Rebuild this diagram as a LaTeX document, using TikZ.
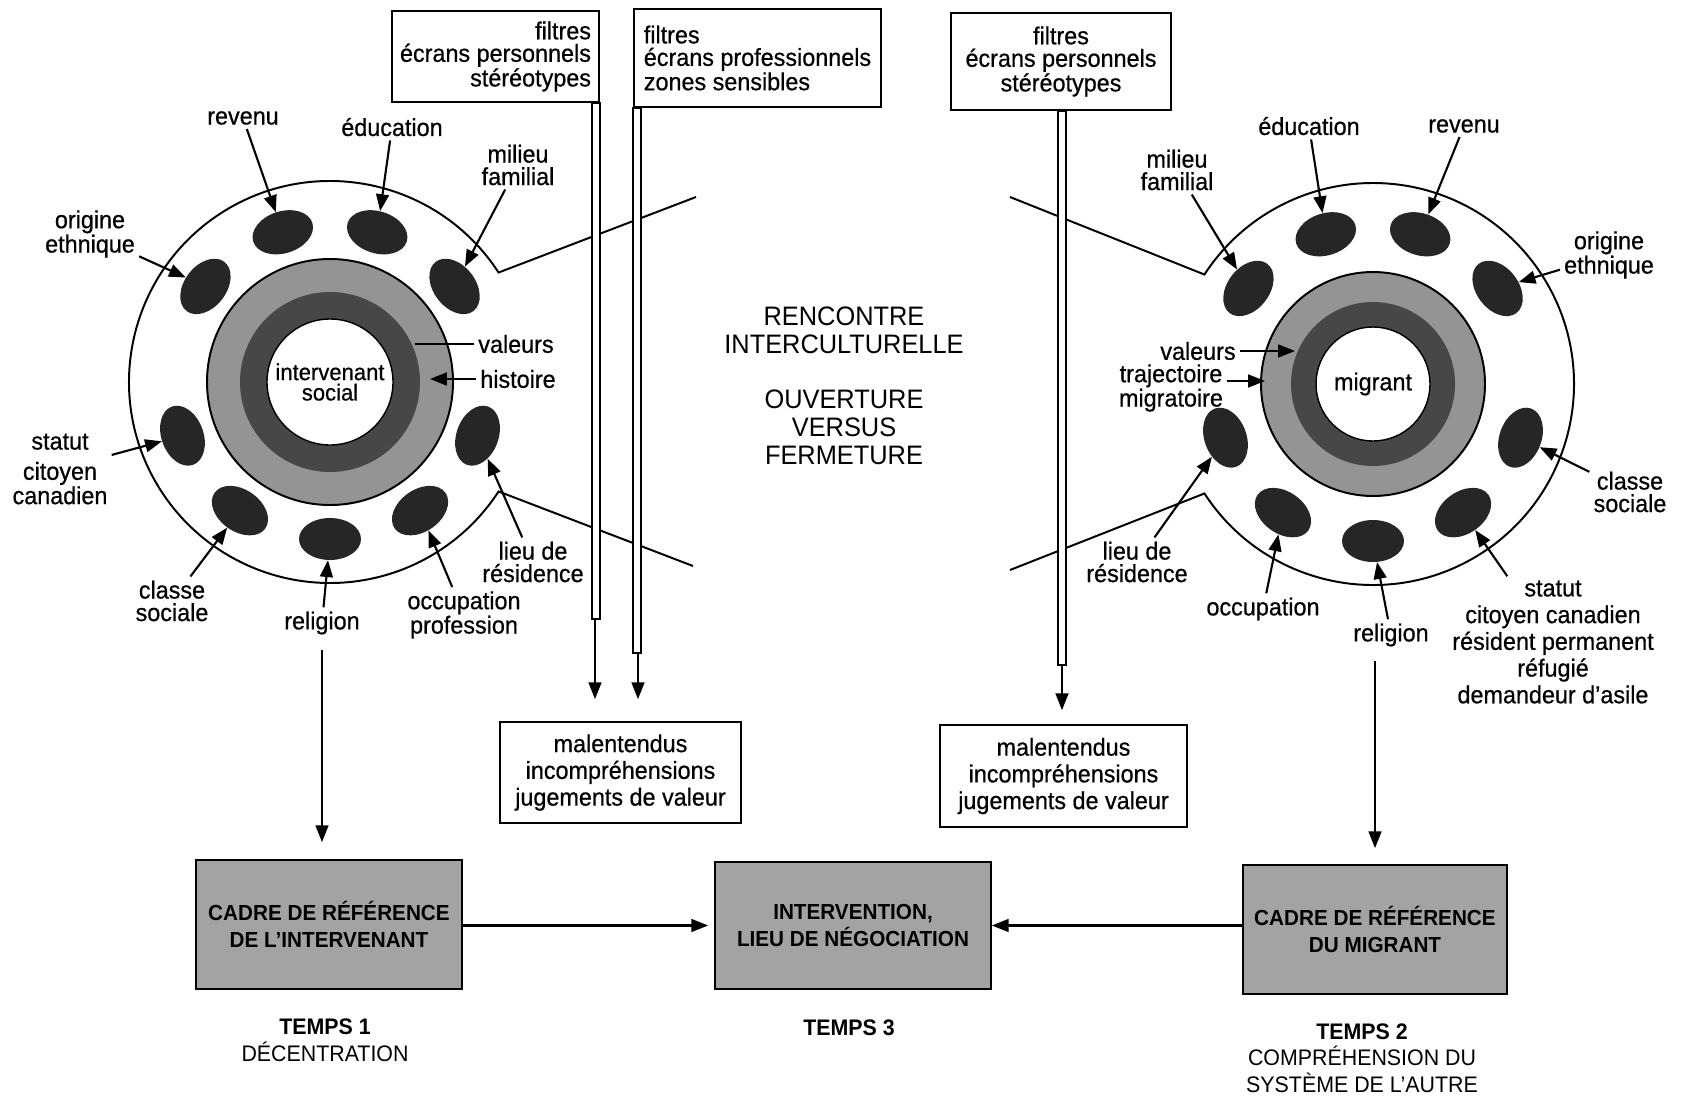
\documentclass[tikz,border=0pt]{standalone}
\usepackage{fontspec}
\setmainfont{Liberation Sans}[FakeStretch=0.95, UprightFeatures={FakeBold=0.6}]
\newfontfamily\plainfont{Liberation Sans}[FakeStretch=0.95]
\usetikzlibrary{arrows.meta,shapes.geometric}

\begin{document}
\begin{tikzpicture}[
        x=0.25mm, y=0.25mm,
        every node/.style={font=\fontsize{17.5}{16}\selectfont, inner sep=1mm},
        pointer/.style={-{Triangle[length=4.2mm, width=3.2mm]}, line width=1.5pt},
        rim/.style={line width=1.4pt},
        blob/.style={ellipse, fill=black!85, inner sep=0pt,
            minimum width=15.5mm, minimum height=10.5mm},
        ringgray/.style={fill=black!42},
        ringdark/.style={fill=black!72},
        filterbox/.style={draw, line width=1.2pt, inner sep=2mm},
        stemline/.style={draw, fill=white, line width=1.1pt},
        cadre/.style={draw, line width=1.2pt, fill=black!36, align=center,
            font=\fontsize{15.5}{19}\selectfont\bfseries},
        tempslabel/.style={align=center, font=\fontsize{16}{19}\selectfont\plainfont}
    ]

    \useasboundingbox (0,0) rectangle (1685,-1101);

    % Circle centres and mouth ends
    \coordinate (lc) at (330,-382);
    \coordinate (rc) at (1373,-384);
    \coordinate (lmouthA) at (696,-197);
    \coordinate (lmouthB) at (693,-566);
    \coordinate (rmouthA) at (1010,-197);
    \coordinate (rmouthB) at (1010,-570);

    % Outer rims, open towards the middle
    \draw[rim] (lmouthA) -- ([shift={(33:201)}]lc)
        arc[start angle=33, end angle=327, radius=201] -- (lmouthB);
    \draw[rim] (rmouthB) -- ([shift={(213:201)}]rc)
        arc[start angle=213, end angle=507, radius=201] -- (rmouthA);

    % Rings of the social worker
    \fill[ringgray] (lc) circle[radius=123];
    \draw[rim] (lc) circle[radius=123];
    \fill[ringdark] (lc) circle[radius=90];
    \filldraw[fill=white, line width=1pt] (lc) circle[radius=63];
    \node[align=center, font=\fontsize{16.5}{14.5}\selectfont] (lcore) at (lc) {intervenant\\social};

    % Rings of the migrant
    \fill[ringgray] (rc) circle[radius=112];
    \draw[rim] (rc) circle[radius=112];
    \fill[ringdark] (rc) circle[radius=82];
    \filldraw[fill=white, line width=1pt] (rc) circle[radius=57];
    \node (rcore) at (rc) {migrant};

    % Left blobs
    \node[blob, rotate=17.5]  (lrevB) at ([shift={(107.5:157)}]lc) {};
    \node[blob, rotate=-17.5] (leduB) at ([shift={(72.5:157)}]lc) {};
    \node[blob, rotate=-52.5] (lmilB) at ([shift={(37.5:157)}]lc) {};
    \node[blob, rotate=52.5]  (loriB) at ([shift={(142.5:157)}]lc) {};
    \node[blob, rotate=110]   (lstaB) at ([shift={(200:157)}]lc) {};
    \node[blob, rotate=145]   (lclaB) at ([shift={(235:157)}]lc) {};
    \node[blob]               (lrelB) at ([shift={(270:157)}]lc) {};
    \node[blob, rotate=35]    (loccB) at ([shift={(305:157)}]lc) {};
    \node[blob, rotate=70]    (llieB) at ([shift={(340:157)}]lc) {};

    % Right blobs
    \node[blob, rotate=-17.5] (rrevB) at ([shift={(72.5:157)}]rc) {};
    \node[blob, rotate=17.5]  (reduB) at ([shift={(107.5:157)}]rc) {};
    \node[blob, rotate=52.5]  (rmilB) at ([shift={(142.5:157)}]rc) {};
    \node[blob, rotate=-52.5] (roriB) at ([shift={(37.5:157)}]rc) {};
    \node[blob, rotate=110]   (rlieB) at ([shift={(200:157)}]rc) {};
    \node[blob, rotate=145]   (roccB) at ([shift={(235:157)}]rc) {};
    \node[blob]               (rrelB) at ([shift={(270:157)}]rc) {};
    \node[blob, rotate=35]    (rstaB) at ([shift={(305:157)}]rc) {};
    \node[blob, rotate=70]    (rclaB) at ([shift={(340:157)}]rc) {};

    % Left labels
    \node (lrev) at (243,-118) {revenu};
    \node (ledu) at (392,-127) {éducation};
    \node[align=center] (lmil) at (518,-165) {milieu\\familial};
    \node[align=center] (lori) at (90,-234) {origine\\ethnique};
    \node[align=center] (lsta) at (60,-469) {statut\\[5.5pt]citoyen\\canadien};
    \node[align=center] (lcla) at (172,-601) {classe\\sociale};
    \node (lrel) at (322,-623) {religion};
    \node[align=center] (locc) at (464,-615) {occupation\\profession};
    \node[align=center] (llie) at (533,-562) {lieu de\\résidence};
    \node (lval) at (516,-344) {valeurs};
    \node (lhis) at (518,-379) {histoire};
    \coordinate (lvalpt) at (415,-344);
    \coordinate (lhispt) at (430,-379);

    \draw[pointer] (lrev) -- (lrevB);
    \draw[pointer] (ledu) -- (leduB);
    \draw[pointer] (lmil) -- (lmilB);
    \draw[pointer] (lori) -- (loriB);
    \draw[pointer] (lsta) -- (lstaB);
    \draw[pointer] (lcla) -- (lclaB);
    \draw[pointer] (lrel) -- (lrelB);
    \draw[pointer] (locc) -- (loccB);
    \draw[pointer] (llie) -- (llieB);
    \draw[rim] (lval) -- (lvalpt);
    \draw[pointer] (lhis) -- (lhispt);

    % Right labels
    \node (redu) at (1309,-126) {éducation};
    \node (rrev) at (1464,-126) {revenu};
    \node[align=center] (rmil) at (1177,-170) {milieu\\familial};
    \node[align=center] (rori) at (1609,-255) {origine\\ethnique};
    \node[align=center] (rcla) at (1630,-492) {classe\\sociale};
    \node[align=center] (rlie) at (1137,-562) {lieu de\\résidence};
    \node (rocc) at (1263,-609) {occupation};
    \node (rrel) at (1391,-635) {religion};
    \node[align=center, font=\fontsize{17.5}{19}\selectfont] (rsta) at (1553,-642)
        {statut\\citoyen canadien\\résident permanent\\réfugié\\demandeur d’asile};
    \node (rval) at (1198,-351) {valeurs};
    \node[align=center] (rtra) at (1171,-388) {trajectoire\\migratoire};
    \coordinate (rvalpt) at (1295,-351);
    \coordinate (rtrapt) at (1265,-381);

    \draw[pointer] (redu) -- (reduB);
    \draw[pointer] (rrev) -- (rrevB);
    \draw[pointer] (rmil) -- (rmilB);
    \draw[pointer] (rori) -- (roriB);
    \draw[pointer] (rcla) -- (rclaB);
    \draw[pointer] (rlie) -- (rlieB);
    \draw[pointer] (rocc) -- (roccB);
    \draw[pointer] (rrel) -- (rrelB);
    \draw[pointer] (rsta) -- (rstaB);
    \draw[pointer] (rval) -- (rvalpt);
    \draw[pointer] (rtra.east |- rtrapt) -- (rtrapt);

    % Middle text
    \node[align=center, font=\fontsize{19}{20}\selectfont\plainfont] (meet) at (844,-330)
        {RENCONTRE\\INTERCULTURELLE};
    \node[align=center, font=\fontsize{19}{20}\selectfont\plainfont] (open) at (844,-427)
        {OUVERTURE\\VERSUS\\FERMETURE};

    % Filter flags with their poles
    \node[filterbox, align=right, minimum width=51.75mm, minimum height=22.75mm]
        (filtA) at (495.5,-56.5) {filtres\\écrans personnels\\stéréotypes};
    \node[filterbox, align=left, minimum width=61.75mm, minimum height=24.5mm]
        (filtB) at (757.5,-58) {filtres\\écrans professionnels\\zones sensibles};
    \node[filterbox, align=center, minimum width=55mm, minimum height=24.25mm]
        (filtC) at (1061,-61.5) {filtres\\écrans personnels\\stéréotypes};

    \draw[stemline] ([xshift=-2mm]filtA.south east) rectangle ++(8,-516);
    \draw[stemline] (filtB.south west) rectangle ++(8,-545);
    \draw[stemline] ([xshift=-0.75mm]filtC.south) rectangle ++(8,-554);
    \coordinate (stemA) at (595,-618);
    \coordinate (stemB) at (638,-652);
    \coordinate (stemC) at (1062,-664);

    % Misunderstanding boxes
    \node[filterbox, align=center, minimum width=60.25mm, minimum height=25.25mm,
        font=\fontsize{17.5}{19}\selectfont]
        (malL) at (620.5,-772.5) {malentendus\\incompréhensions\\jugements de valeur};
    \node[filterbox, align=center, minimum width=61.75mm, minimum height=25.5mm,
        font=\fontsize{17.5}{19}\selectfont]
        (malR) at (1063.5,-776) {malentendus\\incompréhensions\\jugements de valeur};

    \draw[pointer, shorten >=5.5mm] (stemA) -- (stemA |- malL.north);
    \draw[pointer, shorten >=5.5mm] (stemB) -- (stemB |- malL.north);
    \draw[pointer, shorten >=3.5mm] (stemC) -- (stemC |- malR.north);

    % Frames of reference
    \node[cadre, minimum width=66.5mm, minimum height=32.25mm] (cadreL) at (329,-924.5)
        {CADRE DE RÉFÉRENCE\\DE L’INTERVENANT};
    \node[cadre, minimum width=69mm, minimum height=31.75mm] (inter) at (853,-925.5)
        {INTERVENTION,\\LIEU DE NÉGOCIATION};
    \node[cadre, minimum width=66mm, minimum height=32.25mm] (cadreR) at (1375,-929.5)
        {CADRE DE RÉFÉRENCE\\DU MIGRANT};

    \draw[pointer, shorten <=2.8mm, shorten >=4.25mm] (lrel.south) -- (lrel.south |- cadreL.north);
    \draw[pointer, shorten <=2.5mm, shorten >=4mm] (cadreR.north |- rrel.south) -- (cadreR.north);
    \draw[pointer, shorten >=1.5mm] (cadreL.east |- inter) -- (inter.west);
    \draw[pointer] (cadreR.west |- inter) -- (inter.east);

    % Time steps
    \node[tempslabel] (temps1) at (325,-1040) {\textbf{TEMPS 1}\\DÉCENTRATION};
    \node[tempslabel] (temps3) at (849,-1028) {\textbf{TEMPS 3}};
    \node[tempslabel] (temps2) at (1362,-1058)
        {\textbf{TEMPS 2}\\COMPRÉHENSION DU\\SYSTÈME DE L’AUTRE};

    \end{tikzpicture}
\end{document}
